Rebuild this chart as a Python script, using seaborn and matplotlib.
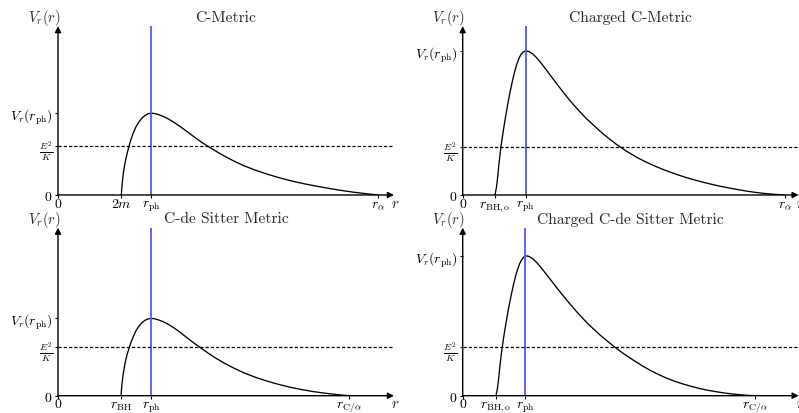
import pandas as pd
import seaborn as sns
import matplotlib.pyplot as plt

# style
sns.set_theme(style='white')
plt.rcParams['font.family'] = ['cmr10', 'DejaVu Serif']
plt.rcParams['mathtext.fontset'] = 'cm'
plt.rcParams['axes.formatter.use_mathtext'] = True

# ---- data (r in plot units, V normalised so V_r(r_ph) = 1) ----
titles = ['C-Metric', 'Charged C-Metric', 'C-de Sitter Metric', 'Charged C-de Sitter Metric']

# C-Metric
cm_r = [0.633, 0.637, 0.642, 0.648, 0.655, 0.664, 0.675, 0.69, 0.71, 0.73, 0.753, 0.78, 0.81,
        0.84, 0.87, 0.90, 0.93, 0.96, 1.0, 1.05, 1.10, 1.15, 1.20, 1.253, 1.32, 1.387, 1.45,
        1.503, 1.58, 1.653, 1.75, 1.853, 1.97, 2.087, 2.2, 2.32, 2.45, 2.587, 2.72, 2.853,
        2.95, 3.053, 3.13, 3.203]
cm_v = [0.0, 0.07, 0.14, 0.21, 0.28, 0.35, 0.42, 0.50, 0.597, 0.68, 0.76, 0.835, 0.895,
        0.94, 0.972, 0.992, 1.0, 0.997, 0.985, 0.962, 0.932, 0.895, 0.855, 0.809, 0.748, 0.687,
        0.633, 0.593, 0.535, 0.483, 0.42, 0.361, 0.305, 0.257, 0.215, 0.176, 0.14, 0.107, 0.078,
        0.052, 0.035, 0.02, 0.009, 0.0]
cm_ticks = [0.0, 0.633, 0.93, 3.203]
cm_labels = ['$0$', '$2m$', r'$r_{\rm ph}$', r'$r_\alpha$']
cm_e2k = 0.593

# Charged C-Metric
ccm_r = [0.323, 0.330, 0.337, 0.344, 0.352, 0.360, 0.370, 0.383, 0.40, 0.423, 0.45, 0.473,
         0.50, 0.52, 0.54, 0.56, 0.58, 0.60, 0.63, 0.66, 0.70, 0.74, 0.79, 0.84, 0.89, 0.94,
         0.99, 1.04, 1.09, 1.14, 1.19, 1.24, 1.30, 1.373, 1.45, 1.54, 1.64, 1.74, 1.82, 1.907,
         1.99, 2.073, 2.16, 2.24, 2.32, 2.407, 2.49, 2.573, 2.66, 2.74, 2.82, 2.907, 3.0, 3.107,
         3.223]
ccm_v = [0.0, 0.025, 0.05, 0.09, 0.14, 0.20, 0.26, 0.336, 0.418, 0.52, 0.628, 0.712,
         0.80, 0.857, 0.905, 0.944, 0.972, 0.99, 1.0, 0.996, 0.979, 0.952, 0.91, 0.864, 0.818,
         0.772, 0.727, 0.683, 0.641, 0.602, 0.564, 0.528, 0.49, 0.443, 0.398, 0.35, 0.303,
         0.262, 0.233, 0.205, 0.181, 0.159, 0.138, 0.12, 0.104, 0.088, 0.074, 0.061, 0.049,
         0.039, 0.029, 0.02, 0.012, 0.005, 0.0]
ccm_ticks = [0.0, 0.323, 0.63, 3.223]
ccm_labels = ['$0$', r'$r_{\rm BH,o}$', r'$r_{\rm ph}$', r'$r_\alpha$']
ccm_e2k = 0.333

# C-de Sitter Metric
cds_r = [0.63, 0.634, 0.639, 0.645, 0.652, 0.661, 0.672, 0.688, 0.713, 0.733, 0.755, 0.78,
         0.81, 0.84, 0.87, 0.90, 0.93, 0.96, 1.0, 1.05, 1.10, 1.15, 1.20, 1.25, 1.31, 1.37,
         1.42, 1.49, 1.56, 1.65, 1.753, 1.86, 1.97, 2.087, 2.2, 2.31, 2.42, 2.53, 2.64, 2.753,
         2.83, 2.91]
cds_v = [0.0, 0.07, 0.14, 0.21, 0.28, 0.35, 0.43, 0.52, 0.625, 0.70, 0.77, 0.84,
         0.90, 0.945, 0.975, 0.993, 1.0, 0.996, 0.982, 0.958, 0.925, 0.885, 0.84, 0.79, 0.73,
         0.67, 0.625, 0.56, 0.50, 0.43, 0.36, 0.295, 0.24, 0.19, 0.148, 0.113, 0.083, 0.058,
         0.037, 0.02, 0.009, 0.0]
cds_ticks = [0.0, 0.63, 0.93, 2.91]
cds_labels = ['$0$', r'$r_{\rm BH}$', r'$r_{\rm ph}$', r'$r_{{\rm C}/\alpha}$']
cds_e2k = 0.625

# Charged C-de Sitter Metric
ccds_r = [0.333, 0.34, 0.347, 0.354, 0.362, 0.37, 0.38, 0.393, 0.41, 0.433, 0.46, 0.483,
          0.51, 0.53, 0.55, 0.57, 0.59, 0.61, 0.626, 0.66, 0.70, 0.74, 0.79, 0.84, 0.89, 0.94,
          0.99, 1.04, 1.09, 1.14, 1.19, 1.24, 1.30, 1.373, 1.45, 1.523, 1.61, 1.70, 1.79,
          1.873, 1.96, 2.04, 2.12, 2.206, 2.29, 2.37, 2.45, 2.54, 2.62, 2.70, 2.78, 2.85, 2.923]
ccds_v = [0.0, 0.025, 0.05, 0.09, 0.14, 0.20, 0.26, 0.336, 0.418, 0.52, 0.628, 0.712,
          0.80, 0.857, 0.905, 0.944, 0.972, 0.99, 1.0, 0.996, 0.979, 0.952, 0.91, 0.864, 0.818,
          0.772, 0.727, 0.683, 0.641, 0.600, 0.561, 0.523, 0.482, 0.434, 0.388, 0.346, 0.30,
          0.257, 0.216, 0.182, 0.151, 0.125, 0.103, 0.083, 0.066, 0.051, 0.039, 0.028, 0.019,
          0.012, 0.0065, 0.0025, 0.0]
ccds_ticks = [0.0, 0.333, 0.626, 2.923]
ccds_labels = ['$0$', r'$r_{\rm BH,o}$', r'$r_{\rm ph}$', r'$r_{{\rm C}/\alpha}$']
ccds_e2k = 0.346

ytops = [2.065, 1.172, 2.173, 1.201]
XMAX = 3.36

panels = [
    (cm_r, cm_v, cm_ticks, cm_labels, cm_e2k),
    (ccm_r, ccm_v, ccm_ticks, ccm_labels, ccm_e2k),
    (cds_r, cds_v, cds_ticks, cds_labels, cds_e2k),
    (ccds_r, ccds_v, ccds_ticks, ccds_labels, ccds_e2k),
]

positions = [
    [0.0726, 0.5266, 0.4205, 0.408],
    [0.5791, 0.5266, 0.4205, 0.408],
    [0.0726, 0.0418, 0.4205, 0.406],
    [0.5791, 0.0418, 0.4205, 0.406],
]

fig = plt.figure(figsize=(7.99, 4.14), dpi=100)

for i, (r, v, xt, xl, e2k) in enumerate(panels):
    ax = fig.add_axes(positions[i])
    df = pd.DataFrame({'r': r, 'V': v})
    sns.lineplot(data=df, x='r', y='V', ax=ax, color='black', lw=0.95,
                 estimator=None, sort=False)

    # photon sphere and energy level
    ax.axvline(xt[2], color='#5555ff', lw=1.3)
    ax.axhline(e2k, color='black', lw=0.9, ls=(0, (2.6, 1.6)))

    ax.set_xlim(0, XMAX)
    ax.set_ylim(0, ytops[i])
    for s in ax.spines.values():
        s.set_visible(False)

    # arrow axes
    arrow = dict(arrowstyle='-|>', lw=1.0, color='black', shrinkA=0, shrinkB=0,
                 mutation_scale=9)
    ax.annotate('', xy=(1, 0), xytext=(0, 0), xycoords='axes fraction', arrowprops=arrow)
    ax.annotate('', xy=(0, 1), xytext=(0, 0), xycoords='axes fraction', arrowprops=arrow)

    ax.set_xticks(xt)
    ax.set_xticklabels(xl)
    ax.set_yticks([0, e2k, 1])
    ax.set_yticklabels(['$0$', r'$\frac{E^2}{K}$', r'$V_r(r_{\rm ph})$'])
    ax.tick_params(axis='both', length=2.3, width=0.8, color='black', labelsize=10,
                   direction='out', left=True, bottom=True, labelcolor='black')
    ax.tick_params(axis='x', pad=6.0)
    ax.tick_params(axis='y', pad=1.5)
    for lab in ax.get_xticklabels():
        lab.set_verticalalignment('baseline')
    ax.set_xlabel('')
    ax.set_ylabel('')

    ax.annotate(titles[i], xy=(0.5, 1), xytext=(0, 6.5), xycoords='axes fraction',
                textcoords='offset points', ha='center', va='center', fontsize=11.2)
    ax.annotate('$V_r(r)$', xy=(0, 1), xytext=(1.5, 6.5), xycoords='axes fraction',
                textcoords='offset points', ha='right', va='center', fontsize=10.5)
    ax.annotate('$r$', xy=(1, 0), xytext=(1, -8.3), xycoords='axes fraction',
                textcoords='offset points', ha='center', va='baseline', fontsize=11)

fig.savefig('out.png', dpi=100)
